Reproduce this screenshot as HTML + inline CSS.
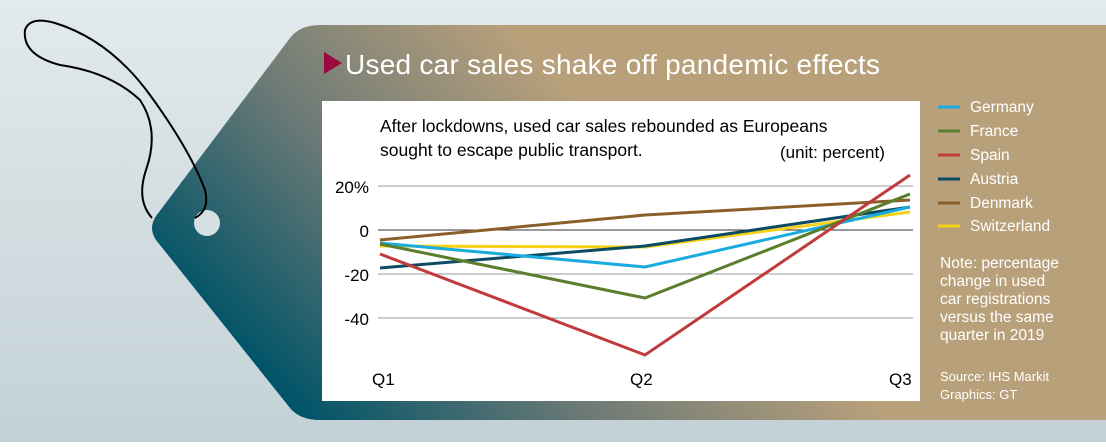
<!DOCTYPE html>
<html><head><meta charset="utf-8"><style>
body{margin:0;width:1106px;height:442px;overflow:hidden;font-family:"Liberation Sans",sans-serif}
</style></head><body>
<svg width="1106" height="442" viewBox="0 0 1106 442" xmlns="http://www.w3.org/2000/svg">
<defs>
<linearGradient id="bg" x1="0" y1="0" x2="0" y2="1"><stop offset="0" stop-color="#e2eaec"/><stop offset="1" stop-color="#c3d1d6"/></linearGradient>
<linearGradient id="tag" gradientUnits="userSpaceOnUse" x1="220" y1="330" x2="520" y2="40"><stop offset="0" stop-color="#005468"/><stop offset="0.5" stop-color="#6e7a76"/><stop offset="1" stop-color="#b8a07b"/></linearGradient>
</defs>
<rect width="1106" height="442" fill="url(#bg)"/>
<path d="M320,25 L1106,25 L1106,420 L320,420 Q300,420 290,408 L156,240 Q148,228 156,216 L290,38 Q300,25 320,25 Z" fill="url(#tag)"/>
<circle cx="207" cy="223" r="13" fill="#d6e0e3"/>
<path d="M152,218 Q136,200 146,170 Q160,130 140,100 Q110,72 60,65 Q22,55 25,30 Q30,16 55,23 Q110,40 150,95 Q190,150 205,190 Q210,210 195,218" fill="none" stroke="#000" stroke-width="2"/>
<polygon points="324,52 324,74 342,63" fill="#9b0a3e"/>
<text x="345" y="74" font-size="28" fill="#fff" textLength="535">Used car sales shake off pandemic effects</text>
<rect x="322" y="101" width="598" height="300" fill="#fff"/>
<text x="380" y="132" font-size="17.5" fill="#000">After lockdowns, used car sales rebounded as Europeans</text>
<text x="380" y="156" font-size="17.5" fill="#000">sought to escape public transport.</text>
<text x="780" y="158" font-size="17" fill="#000">(unit: percent)</text>
<g stroke="#999" stroke-width="1"><line x1="378" y1="186" x2="913" y2="186"/><line x1="378" y1="274" x2="913" y2="274"/><line x1="378" y1="318" x2="913" y2="318"/></g>
<line x1="378" y1="230" x2="913" y2="230" stroke="#333" stroke-width="1"/>
<g font-size="17" fill="#000" text-anchor="end"><text x="369" y="193">20%</text><text x="369" y="237">0</text><text x="369" y="281">-20</text><text x="369" y="325">-40</text></g>
<g font-size="17" fill="#000"><text x="372" y="385">Q1</text><text x="630" y="385">Q2</text><text x="889" y="385">Q3</text></g>
<g fill="none" stroke-width="3">
<polyline points="380,240 645,215 910,200" stroke="#8a5f2a"/>
<polyline points="380,246 645,247 910,212" stroke="#f6d116"/>
<polyline points="380,268 645,246 910,207" stroke="#0d4a63"/>
<polyline points="380,243 645,267 910,207" stroke="#1aabe0"/>
<polyline points="380,244 645,298 910,194" stroke="#5b7e2d"/>
<polyline points="380,254 645,355 910,175" stroke="#c23b3c"/>
</g>
<g stroke-width="3"><line x1="938" y1="107" x2="960" y2="107" stroke="#1aabe0"/><line x1="938" y1="131" x2="960" y2="131" stroke="#5b7e2d"/><line x1="938" y1="155" x2="960" y2="155" stroke="#c23b3c"/><line x1="938" y1="179" x2="960" y2="179" stroke="#0d4a63"/><line x1="938" y1="203" x2="960" y2="203" stroke="#8a5f2a"/><line x1="938" y1="226" x2="960" y2="226" stroke="#f6d116"/></g>
<g font-size="15.5" fill="#fff"><text x="970" y="112">Germany</text><text x="970" y="136">France</text><text x="970" y="160">Spain</text><text x="970" y="184">Austria</text><text x="970" y="208">Denmark</text><text x="970" y="231">Switzerland</text>
<text x="940" y="268">Note: percentage</text><text x="940" y="286">change in used</text><text x="940" y="304">car registrations</text><text x="940" y="322">versus the same</text><text x="940" y="340">quarter in 2019</text></g>
<g font-size="13" fill="#fff"><text x="940" y="381">Source: IHS Markit</text><text x="940" y="399">Graphics: GT</text></g>
</svg>
</body></html>
